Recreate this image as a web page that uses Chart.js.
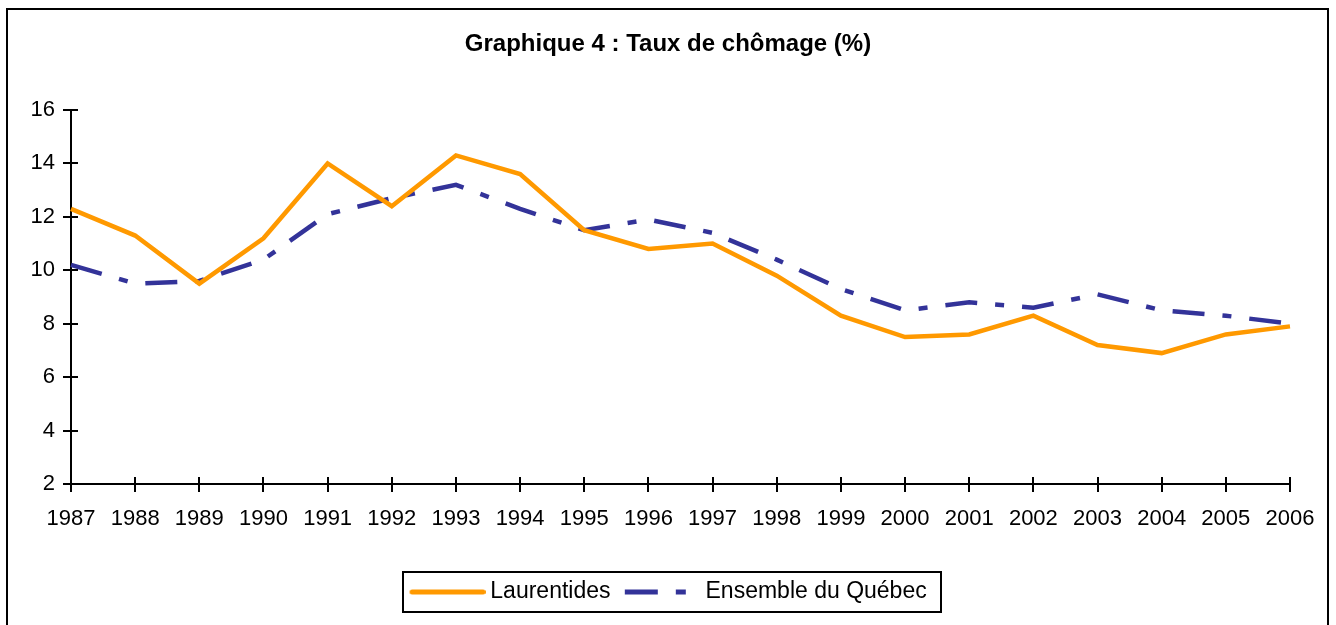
<!DOCTYPE html>
<html>
<head>
<meta charset="utf-8">
<script src="https://cdn.jsdelivr.net/npm/chart.js@4"></script>
<style>
  html, body { margin: 0; padding: 0; background: #fff; }
  #wrap { position: relative; width: 1336px; height: 625px; overflow: hidden; }
  #frame { position: absolute; left: 6px; top: 8px; width: 1319px; height: 640px; border: 2px solid #000; box-sizing: content-box; pointer-events: none; }
  canvas { position: absolute; left: 0; top: 0; }
</style>
</head>
<body>
<div id="wrap">
  <canvas id="c" width="1336" height="625"></canvas>
  <div id="frame"></div>
</div>
<script>
const years = ['1987','1988','1989','1990','1991','1992','1993','1994','1995','1996','1997','1998','1999','2000','2001','2002','2003','2004','2005','2006'];
const laurentides = [12.3, 11.3, 9.5, 11.2, 14.0, 12.4, 14.3, 13.6, 11.5, 10.8, 11.0, 9.8, 8.3, 7.5, 7.6, 8.3, 7.2, 6.9, 7.6, 7.9];
const quebec = [10.2, 9.5, 9.6, 10.4, 12.1, 12.7, 13.2, 12.3, 11.5, 11.9, 11.4, 10.4, 9.3, 8.5, 8.8, 8.6, 9.1, 8.5, 8.3, 8.0];
const yMin = 2, yMax = 16, yStep = 2;
const titleText = 'Graphique 4 : Taux de chômage (%)';
const seriesNames = ['Laurentides', 'Ensemble du Québec'];

const FONT = "'Liberation Sans', Arial, sans-serif";
const COLORS = ['#FF9900', '#333399'];
const DASHES = [[], [33, 18, 10, 18]];

// legend line icons (drawn by the legend as point-style images)
function makeIcon(color, dash, cap) {
  const cv = document.createElement('canvas');
  cv.width = 83; cv.height = 8;
  const c = cv.getContext('2d');
  c.strokeStyle = color;
  c.lineWidth = 5;
  c.lineCap = cap;
  c.setLineDash(dash);
  c.beginPath();
  c.moveTo(cap === 'round' ? 9.5 : 7, 4);
  c.lineTo(cap === 'round' ? 80.5 : 83, 4);
  c.stroke();
  return cv;
}
const legendIcons = [makeIcon(COLORS[0], DASHES[0], 'round'), makeIcon(COLORS[1], DASHES[1], 'butt')];

const innerTicks = {
  id: 'innerTicks',
  afterDraw(chart) {
    const ctx = chart.ctx;
    const xs = chart.scales.x, ys = chart.scales.y;
    ctx.save();
    ctx.strokeStyle = '#000';
    ctx.lineWidth = 2;
    ctx.beginPath();
    ys.ticks.forEach((t, i) => {
      const y = Math.round(ys.getPixelForTick(i));
      ctx.moveTo(xs.left, y);
      ctx.lineTo(xs.left + 7, y);
    });
    xs.ticks.forEach((t, i) => {
      const x = Math.round(xs.getPixelForTick(i));
      ctx.moveTo(x, ys.bottom);
      ctx.lineTo(x, ys.bottom - 7);
    });
    ctx.stroke();
    const lg = chart.legend;
    if (lg && lg.legendHitBoxes && lg.legendHitBoxes.length) {
      const hb = lg.legendHitBoxes;
      const first = hb[0], last = hb[hb.length - 1];
      const cy = first.top + first.height / 2;
      const l = first.left - 6, r = last.left + last.width + 15;
      ctx.lineWidth = 2;
      ctx.strokeRect(Math.round(l), Math.round(cy - 20), Math.round(r - l), 40);
    }
    ctx.restore();
  }
};

new Chart(document.getElementById('c'), {
  type: 'line',
  data: {
    labels: years,
    datasets: [
      {
        label: seriesNames[0],
        data: laurentides,
        borderColor: COLORS[0],
        backgroundColor: COLORS[0],
        borderWidth: 4.5,
        pointRadius: 0,
        tension: 0,
        fill: false
      },
      {
        label: seriesNames[1],
        data: quebec,
        borderColor: COLORS[1],
        backgroundColor: COLORS[1],
        borderWidth: 4.5,
        borderDash: [32, 18, 9, 18],
        pointRadius: 0,
        tension: 0,
        fill: false
      }
    ]
  },
  options: {
    responsive: false,
    animation: false,
    devicePixelRatio: 1,
    layout: { padding: { left: 0, right: 0, top: 0, bottom: 11.5 } },
    plugins: {
      title: {
        display: true,
        text: titleText,
        color: '#000',
        font: { family: FONT, size: 24, weight: 'bold', lineHeight: 1.2 },
        padding: { top: 30, bottom: 51.2 }
      },
      legend: {
        display: true,
        position: 'bottom',
        labels: {
          color: '#000',
          font: { family: FONT, size: 23 },
          usePointStyle: true,
          pointStyleWidth: 69.5,
          padding: 14,
          generateLabels(chart) {
            const items = Chart.defaults.plugins.legend.labels.generateLabels(chart);
            items.forEach((it, i) => { it.pointStyle = legendIcons[it.datasetIndex]; });
            return items;
          }
        }
      },
      tooltip: { enabled: false }
    },
    scales: {
      x: {
        type: 'category',
        offset: false,
        grid: { display: true, drawOnChartArea: false, drawTicks: true, tickLength: 8, color: '#000', lineWidth: 2 },
        border: { display: true, color: '#000', width: 2 },
        ticks: { color: '#000', font: { family: FONT, size: 22 }, padding: 14, maxRotation: 0, autoSkip: false },
        afterFit(scale) { scale.height = 82.5; }
      },
      y: {
        min: yMin, max: yMax,
        grid: { display: true, drawOnChartArea: false, drawTicks: true, tickLength: 8, color: '#000', lineWidth: 2 },
        border: { display: true, color: '#000', width: 2 },
        ticks: { stepSize: yStep, color: '#000', font: { family: FONT, size: 22 }, padding: 8 },
        afterFit(scale) { scale.width = 71; }
      },
      yRight: {
        position: 'right',
        display: true,
        grid: { display: false, drawTicks: false },
        border: { display: false },
        ticks: { display: false },
        afterFit(scale) { scale.width = 46; }
      }
    }
  },
  plugins: [innerTicks]
});
</script>
</body>
</html>
